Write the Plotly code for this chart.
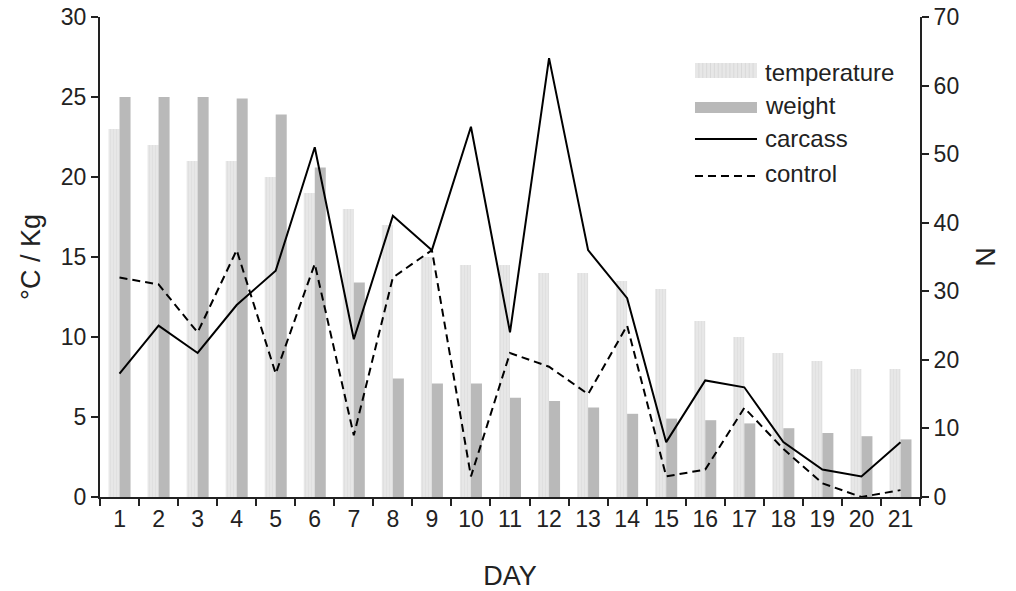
import plotly.graph_objects as go

days = [str(d) for d in range(1, 22)]
temperature = [23, 22, 21, 21, 20, 19, 18, 17, 15, 14.5, 14.5, 14, 14, 13.5, 13, 11, 10, 9, 8.5, 8, 8]
weight = [25, 25, 25, 24.9, 23.9, 20.6, 13.4, 7.4, 7.1, 7.1, 6.2, 6.0, 5.6, 5.2, 4.9, 4.8, 4.6, 4.3, 4.0, 3.8, 3.6]
carcass = [18, 25, 21, 28, 33, 51, 23, 41, 36, 54, 24, 64, 36, 29, 8, 17, 16, 8, 4, 3, 8]
control = [32, 31, 24, 36, 18, 34, 9, 32, 36, 3, 21, 19, 15, 25, 3, 4, 13, 7, 2, 0, 1]
legend_names = ["temperature", "weight", "carcass", "control"]

FONT = "Liberation Sans, Arial, sans-serif"
INK = "#222222"
TEMP_COLOR = "#e7e7e7"
WEIGHT_COLOR = "#b9b9b9"
DASH = "8px,5px"

fig = go.Figure()
fig.add_trace(go.Bar(
    x=days, y=temperature, name=legend_names[0],
    marker=dict(color=TEMP_COLOR, line=dict(width=0),
                pattern=dict(shape="|", fgcolor="#d8d8d8", size=3, solidity=0.3)),
))
fig.add_trace(go.Bar(
    x=days, y=weight, name=legend_names[1],
    marker=dict(color=WEIGHT_COLOR, line=dict(width=0)),
))
fig.add_trace(go.Scatter(
    x=days, y=carcass, name=legend_names[2], yaxis="y2", mode="lines",
    line=dict(color="black", width=2),
))
fig.add_trace(go.Scatter(
    x=days, y=control, name=legend_names[3], yaxis="y2", mode="lines",
    line=dict(color="black", width=2, dash=DASH),
))

# Custom legend (paper coordinates) to reproduce wide swatches
sx0, sx1 = 0.7256, 0.8012
tx = 0.8085
shapes = [
    dict(type="rect", xref="paper", yref="paper", x0=sx0, x1=sx1, y0=0.8729, y1=0.9042,
         fillcolor=TEMP_COLOR, line=dict(width=0), layer="above"),
    dict(type="rect", xref="paper", yref="paper", x0=sx0, x1=sx1, y0=0.800, y1=0.8229,
         fillcolor=WEIGHT_COLOR, line=dict(width=0), layer="above"),
    dict(type="line", xref="paper", yref="paper", x0=sx0, x1=sx1, y0=0.7458, y1=0.7458,
         line=dict(color="black", width=2), layer="above"),
    dict(type="line", xref="paper", yref="paper", x0=sx0, x1=sx1, y0=0.6688, y1=0.6688,
         line=dict(color="black", width=2, dash=DASH), layer="above"),
]
for i in range(1, 16):
    xs = sx0 + (sx1 - sx0) * i / 16
    shapes.append(dict(type="line", xref="paper", yref="paper", x0=xs, x1=xs,
                       y0=0.8729, y1=0.9042, line=dict(color="#d9d9d9", width=1), layer="above"))

label_y = [0.8842, 0.816, 0.7468, 0.6738]
annotations = [
    dict(text=n, xref="paper", yref="paper", x=tx, y=yv, xanchor="left", yanchor="middle",
         showarrow=False, font=dict(family=FONT, size=24, color=INK))
    for n, yv in zip(legend_names, label_y)
]

fig.update_layout(
    width=1016, height=591,
    paper_bgcolor="white", plot_bgcolor="white",
    margin=dict(l=100, r=96, t=17, b=94),
    font=dict(family=FONT, size=23, color=INK),
    barmode="group", bargap=0.436, bargroupgap=0,
    showlegend=False,
    shapes=shapes, annotations=annotations,
    xaxis=dict(
        type="category", tickson="boundaries", ticks="outside", ticklen=7, tickwidth=1.5,
        tickcolor=INK, showline=True, linecolor=INK, linewidth=2,
        showgrid=False, zeroline=False, automargin=False, ticklabeloverflow="allow",
        title=dict(text="DAY", font=dict(size=27), standoff=36),
    ),
    yaxis=dict(
        range=[0, 30], dtick=5, ticks="outside", ticklen=7, tickwidth=1.5, tickcolor=INK,
        showline=True, linecolor=INK, linewidth=2, showgrid=False, zeroline=False,
        automargin=False, ticklabeloverflow="allow",
        title=dict(text="°C / Kg", font=dict(size=27), standoff=12),
    ),
    yaxis2=dict(
        range=[0, 70], dtick=10, ticks="outside", ticklen=7, tickwidth=1.5, tickcolor=INK,
        overlaying="y", side="right", automargin=False, ticklabeloverflow="allow",
        showline=True, linecolor=INK, linewidth=2, showgrid=False, zeroline=False,
        title=dict(text="N", font=dict(size=27), standoff=18),
    ),
)

fig.write_html("out.html", config={"displayModeBar": False},
               post_script="document.body.style.margin='0px';")
